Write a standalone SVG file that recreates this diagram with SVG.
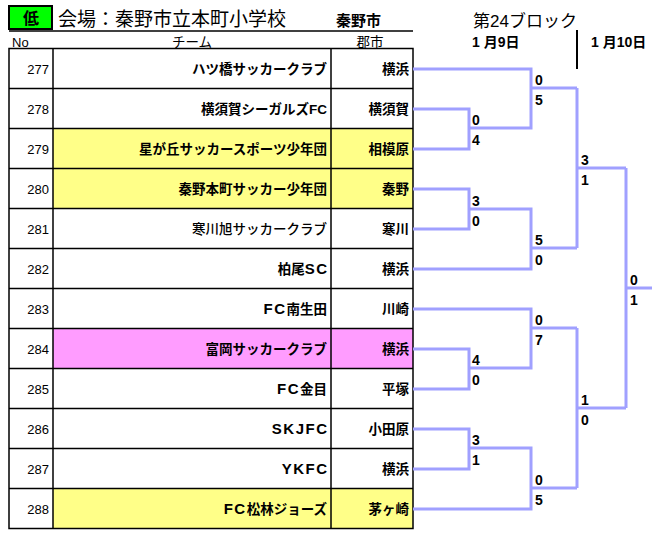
<svg xmlns="http://www.w3.org/2000/svg" width="662" height="535" viewBox="0 0 662 535">
<style>
text{font-family:"Liberation Sans","Noto Sans CJK JP",sans-serif;fill:#000}
.no{font-size:13px;text-anchor:end}
.team{font-size:13.5px;text-anchor:end;font-weight:bold}
.team.n{font-weight:500}
.l{font-size:15px;letter-spacing:1.5px}
.city{font-size:13.5px;text-anchor:end;font-weight:bold}
.grid{stroke:#000;stroke-width:1.5;fill:none}
.br{stroke:#a0a0ff;stroke-width:3;fill:none}
.sc{font-size:14px;font-weight:bold}
.hd{font-size:13.5px;text-anchor:middle}
</style>
<rect width="662" height="535" fill="#fff"/>
<g id="header">
<rect x="9" y="6" width="43" height="23" fill="#00ff00" stroke="#000" stroke-width="2"/>
<text x="31" y="24" font-size="16" font-weight="bold" text-anchor="middle">低</text>
<text x="58" y="26" font-size="19">会場：秦野市立本町小学校</text>
<text x="336" y="26" font-size="15" font-weight="bold">秦野市</text>
<line x1="9" y1="31" x2="413" y2="31" stroke="#000" stroke-width="1.5"/>
<text x="12" y="47" font-size="13">No</text>
<text x="192" y="47" class="hd">チーム</text>
<text x="370" y="47" class="hd">郡市</text>
<text x="473" y="27" font-size="17">第24ブロック</text>
<text x="472" y="47" font-size="14" font-weight="bold">1 月9日</text>
<text x="591" y="47" font-size="14" font-weight="bold">1 月10日</text>
<line x1="577" y1="30" x2="577" y2="69" stroke="#000" stroke-width="2"/>
</g>
<g id="fills">
<rect x="53" y="128.5" width="360" height="80" fill="#ffff88"/>
<rect x="53" y="328.5" width="360" height="40" fill="#ff9cff"/>
<rect x="53" y="488.5" width="360" height="40" fill="#ffff88"/>
</g>
<g id="grid" class="grid">
<rect x="9" y="48.5" width="404" height="480"/>
<line x1="53" y1="48.5" x2="53" y2="528.5"/>
<line x1="331" y1="48.5" x2="331" y2="528.5"/>
<path d="M9,88.5H413M9,128.5H413M9,168.5H413M9,208.5H413M9,248.5H413M9,288.5H413M9,328.5H413M9,368.5H413M9,408.5H413M9,448.5H413M9,488.5H413"/>
</g>
<g id="n277"><text class="no" x="49" y="73.5">277</text><text class="team" x="327" y="73.5">ハツ橋サッカークラブ</text><text class="city" x="409" y="73.5">横浜</text></g>
<g id="n278"><text class="no" x="49" y="113.5">278</text><text class="team" x="327" y="113.5">横須賀シーガルズFC</text><text class="city" x="409" y="113.5">横須賀</text></g>
<g id="n279"><text class="no" x="49" y="153.5">279</text><text class="team" x="327" y="153.5">星が丘サッカースポーツ少年団</text><text class="city" x="409" y="153.5">相模原</text></g>
<g id="n280"><text class="no" x="49" y="193.5">280</text><text class="team" x="327" y="193.5">秦野本町サッカー少年団</text><text class="city" x="409" y="193.5">秦野</text></g>
<g id="n281"><text class="no" x="49" y="233.5">281</text><text class="team n" x="327" y="233.5">寒川旭サッカークラブ</text><text class="city" x="409" y="233.5">寒川</text></g>
<g id="n282"><text class="no" x="49" y="273.5">282</text><text class="team" x="328.5" y="273.5">柏尾<tspan class="l">SC</tspan></text><text class="city" x="409" y="273.5">横浜</text></g>
<g id="n283"><text class="no" x="49" y="313.5">283</text><text class="team" x="327" y="313.5"><tspan class="l">FC</tspan>南生田</text><text class="city" x="409" y="313.5">川崎</text></g>
<g id="n284"><text class="no" x="49" y="353.5">284</text><text class="team" x="327" y="353.5">富岡サッカークラブ</text><text class="city" x="409" y="353.5">横浜</text></g>
<g id="n285"><text class="no" x="49" y="393.5">285</text><text class="team" x="327" y="393.5"><tspan class="l">FC</tspan>金目</text><text class="city" x="409" y="393.5">平塚</text></g>
<g id="n286"><text class="no" x="49" y="433.5">286</text><text class="team" x="328.5" y="433.5"><tspan class="l">SKJFC</tspan></text><text class="city" x="409" y="433.5">小田原</text></g>
<g id="n287"><text class="no" x="49" y="473.5">287</text><text class="team" x="328.5" y="473.5"><tspan class="l">YKFC</tspan></text><text class="city" x="409" y="473.5">横浜</text></g>
<g id="n288"><text class="no" x="49" y="513.5">288</text><text class="team" x="327" y="513.5"><tspan class="l">FC</tspan>松林ジョーズ</text><text class="city" x="409" y="513.5">茅ヶ崎</text></g>
<g id="connectors" class="br">
<path d="M413,69H531V128H469M413,109H469V149H413M531,88H577"/>
<path d="M413,189H469V229H413M469,209H531V269H413M531,248H577"/>
<path d="M413,309H531V368H469M413,349H469V389H413M531,328H577"/>
<path d="M413,429H469V469H413M469,448H531V509H413M531,488H577"/>
<path d="M577,88V248M577,168H626M577,328V488M577,408H626"/>
<path d="M626,168V408M626,288H652"/>
</g>
<g id="scores" class="sc">
<text x="472" y="125">0</text><text x="472" y="145">4</text>
<text x="472" y="206">3</text><text x="472" y="226">0</text>
<text x="472" y="365">4</text><text x="472" y="385">0</text>
<text x="472" y="445">3</text><text x="472" y="465">1</text>
<text x="535" y="85">0</text><text x="535" y="105">5</text>
<text x="535" y="245">5</text><text x="535" y="265">0</text>
<text x="535" y="325">0</text><text x="535" y="345">7</text>
<text x="535" y="485">0</text><text x="535" y="505">5</text>
<text x="581" y="165">3</text><text x="581" y="185">1</text>
<text x="581" y="405">1</text><text x="581" y="425">0</text>
<text x="630" y="285">0</text><text x="630" y="305">1</text>
</g>
</svg>
